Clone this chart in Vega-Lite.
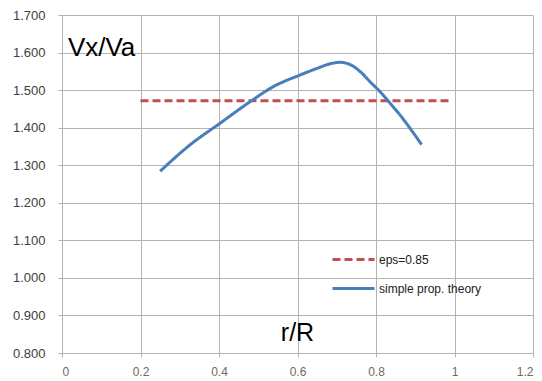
{
  "$schema": "https://vega.github.io/schema/vega-lite/v6.json",
  "width": 471,
  "height": 338,
  "autosize": "none",
  "padding": {"left": 62, "top": 15, "right": 9, "bottom": 28},
  "background": "white",
  "config": {
    "view": {"stroke": null},
    "font": "Liberation Sans"
  },
  "datasets": {
    "lines": [
      {"series": "eps=0.85", "x": 0.2, "y": 1.472},
      {"series": "eps=0.85", "x": 0.99, "y": 1.472},
      {"series": "simple prop. theory", "x": 0.25, "y": 1.284},
      {"series": "simple prop. theory", "x": 0.326, "y": 1.354},
      {"series": "simple prop. theory", "x": 0.403, "y": 1.412},
      {"series": "simple prop. theory", "x": 0.479, "y": 1.469},
      {"series": "simple prop. theory", "x": 0.538, "y": 1.509},
      {"series": "simple prop. theory", "x": 0.606, "y": 1.540},
      {"series": "simple prop. theory", "x": 0.650, "y": 1.558},
      {"series": "simple prop. theory", "x": 0.683, "y": 1.570},
      {"series": "simple prop. theory", "x": 0.708, "y": 1.574},
      {"series": "simple prop. theory", "x": 0.734, "y": 1.568},
      {"series": "simple prop. theory", "x": 0.759, "y": 1.550},
      {"series": "simple prop. theory", "x": 0.785, "y": 1.522},
      {"series": "simple prop. theory", "x": 0.810, "y": 1.496},
      {"series": "simple prop. theory", "x": 0.836, "y": 1.465},
      {"series": "simple prop. theory", "x": 0.861, "y": 1.434},
      {"series": "simple prop. theory", "x": 0.887, "y": 1.398},
      {"series": "simple prop. theory", "x": 0.916, "y": 1.355}
    ],
    "notesLeft": [
      {"label": "Vx/Va", "x": 0.015, "y": 1.612}
    ],
    "notesCenter": [
      {"label": "r/R", "x": 0.6, "y": 0.853}
    ]
  },
  "layer": [
    {
      "data": {"name": "lines"},
      "mark": {"type": "line", "strokeWidth": 3, "interpolate": "monotone"},
      "encoding": {
        "x": {
          "field": "x", "type": "quantitative",
          "scale": {"domain": [0, 1.2], "nice": false, "zero": false},
          "axis": {
            "values": [0, 0.2, 0.4, 0.6, 0.8, 1, 1.2], "tickCount": 20,
            "format": "~g", "labelOverlap": false,
            "title": null, "grid": true, "gridColor": "#b3b3b3", "gridWidth": 1,
            "domainColor": "#b3b3b3", "tickColor": "#b3b3b3", "tickSize": 4,
            "labelColor": "#6a6a6a", "labelFontSize": 12, "labelPadding": 9,
            "labelFont": "Liberation Sans"
          }
        },
        "y": {
          "field": "y", "type": "quantitative",
          "scale": {"domain": [0.8, 1.7], "nice": false, "zero": false},
          "axis": {
            "values": [0.8, 0.9, 1.0, 1.1, 1.2, 1.3, 1.4, 1.5, 1.6, 1.7], "tickCount": 20,
            "format": ".3f", "labelOverlap": false,
            "title": null, "grid": true, "gridColor": "#b3b3b3", "gridWidth": 1,
            "domainColor": "#b3b3b3", "tickColor": "#b3b3b3", "tickSize": 4,
            "labelColor": "#404040", "labelFontSize": 13, "labelPadding": 13,
            "labelFont": "Liberation Sans"
          }
        },
        "color": {
          "field": "series", "type": "nominal",
          "scale": {"domain": ["eps=0.85", "simple prop. theory"], "range": ["#c0504d", "#4a7ebb"]},
          "legend": {
            "title": null, "orient": "none", "legendX": 269, "legendY": 222,
            "symbolType": "stroke", "symbolSize": 1764, "symbolStrokeWidth": 3,
            "labelFontSize": 12, "labelColor": "#202020", "labelOffset": 3,
            "labelFont": "Liberation Sans", "padding": 0, "rowPadding": -12
          }
        },
        "strokeDash": {
          "field": "series", "type": "nominal",
          "scale": {"domain": ["eps=0.85", "simple prop. theory"], "range": [[8, 4], [1, 0]]},
          "legend": {
            "title": null, "orient": "none", "legendX": 269, "legendY": 222,
            "symbolType": "stroke", "symbolSize": 1764, "symbolStrokeWidth": 3,
            "labelFontSize": 12, "labelColor": "#202020", "labelOffset": 3,
            "labelFont": "Liberation Sans", "padding": 0, "rowPadding": -12
          }
        }
      }
    },
    {
      "data": {"name": "notesLeft"},
      "mark": {"type": "text", "fontSize": 26, "color": "#000000", "baseline": "middle", "align": "left", "font": "Liberation Sans"},
      "encoding": {
        "x": {"field": "x", "type": "quantitative"},
        "y": {"field": "y", "type": "quantitative"},
        "text": {"field": "label"}
      }
    },
    {
      "data": {"name": "notesCenter"},
      "mark": {"type": "text", "fontSize": 25, "color": "#000000", "baseline": "middle", "align": "center", "font": "Liberation Sans"},
      "encoding": {
        "x": {"field": "x", "type": "quantitative"},
        "y": {"field": "y", "type": "quantitative"},
        "text": {"field": "label"}
      }
    }
  ]
}
